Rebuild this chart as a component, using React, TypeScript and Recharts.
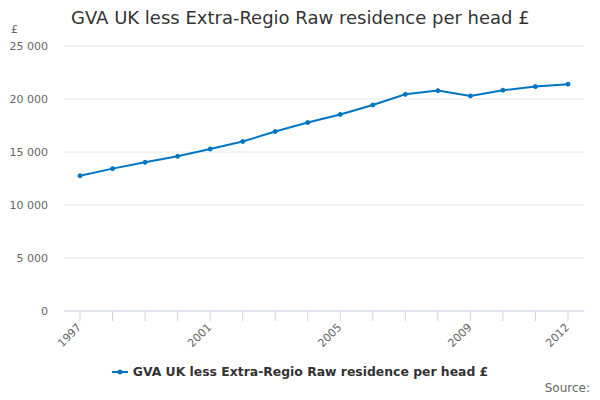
import { LineChart, Line, XAxis, YAxis, CartesianGrid, Legend } from 'recharts';

const years = ['1997', '1998', '1999', '2000', '2001', '2002', '2003', '2004', '2005', '2006', '2007', '2008', '2009', '2010', '2011', '2012'];
const gvaPerHead = [12760, 13430, 14030, 14590, 15280, 15990, 16930, 17780, 18540, 19430, 20440, 20790, 20290, 20830, 21170, 21400];
const labelledYears = ['1997', '2001', '2005', '2009', '2012'];
const yTicks = [0, 5000, 10000, 15000, 20000, 25000];

const seriesName = 'GVA UK less Extra-Regio Raw residence per head £';
const font = '"DejaVu Sans", sans-serif';
const lineColor = '#0075c2';

const data = years.map((year, i) => ({ year, value: gvaPerHead[i] }));

const formatThousands = (v: number) => v.toString().replace(/\B(?=(\d{3})+(?!\d))/g, ' ');

function YearTick({ x, y, payload }: any) {
  if (!labelledYears.includes(payload.value)) return null;
  const tx = x + 2;
  const ty = y + 5;
  return (
    <text
      x={tx}
      y={ty}
      textAnchor="end"
      fill="#666"
      fontSize={11}
      fontFamily={font}
      transform={`rotate(-45, ${tx}, ${ty})`}
    >
      {payload.value}
    </text>
  );
}

function LegendContent() {
  return (
    <div style={{ display: 'flex', justifyContent: 'center', alignItems: 'center', fontFamily: font }}>
      <svg width={16} height={10} style={{ marginRight: 5 }}>
        <line x1={0} y1={5} x2={16} y2={5} stroke={lineColor} strokeWidth={2} />
        <circle cx={8} cy={5} r={2.5} fill={lineColor} />
      </svg>
      <span style={{ fontSize: 12.4, fontWeight: 'bold', color: '#333' }}>{seriesName}</span>
    </div>
  );
}

export default function App() {
  return (
    <div style={{ position: 'absolute', top: 0, left: 0, width: 600, height: 400, background: '#fff', fontFamily: font }}>
      <div style={{ position: 'absolute', left: 71, top: 7, fontSize: 18, color: '#333', whiteSpace: 'nowrap' }}>
        {seriesName}
      </div>
      <div style={{ position: 'absolute', left: 11, top: 23, fontSize: 11, color: '#666' }}>£</div>
      <div style={{ position: 'absolute', right: 10, top: 381, fontSize: 12, color: '#666' }}>Source:</div>
      <LineChart width={600} height={400} data={data} margin={{ top: 46, right: 16, left: 0, bottom: 39 }}>
        <CartesianGrid vertical={false} stroke="#e6e6e6" />
        <XAxis
          dataKey="year"
          interval={0}
          height={50}
          padding={{ left: 16, right: 16 }}
          axisLine={{ stroke: '#ccd6eb' }}
          tickLine={{ stroke: '#ccd6eb' }}
          tickSize={10}
          tickMargin={2}
          tick={<YearTick />}
        />
        <YAxis
          width={64}
          domain={[0, 25000]}
          ticks={yTicks}
          axisLine={false}
          tickLine={false}
          tickSize={8}
          tickMargin={8}
          tickFormatter={formatThousands}
          tick={{ fill: '#666', fontSize: 11, fontFamily: font }}
        />
        <Legend
          verticalAlign="middle"
          align="center"
          layout="horizontal"
          content={<LegendContent />}
          wrapperStyle={{ top: 364, left: 0, width: 600 }}
        />
        <Line
          type="linear"
          dataKey="value"
          name={seriesName}
          stroke={lineColor}
          strokeWidth={2}
          dot={{ r: 2, fill: lineColor, stroke: lineColor, strokeWidth: 1 }}
          activeDot={false}
          isAnimationActive={false}
        />
      </LineChart>
    </div>
  );
}
